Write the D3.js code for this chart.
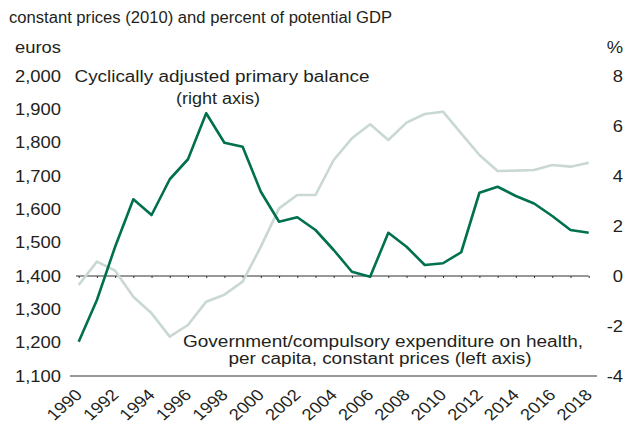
<!DOCTYPE html>
<html>
<head>
<meta charset="utf-8">
<script src="https://cdn.jsdelivr.net/npm/d3@7/dist/d3.min.js"></script>
<style>
  html, body { margin: 0; padding: 0; background: #fff; }
  svg { display: block; font-family: "Liberation Sans", Arial, Helvetica, sans-serif; }
</style>
</head>
<body>
<svg id="chart" width="626" height="425"></svg>
<script>
const years = d3.range(1990, 2019);
const healthEuros = [1373, 1443, 1416, 1338, 1288, 1218, 1253, 1323, 1344, 1383,
  1488, 1603, 1643, 1643, 1748, 1813, 1855, 1808, 1860, 1886,
  1893, 1828, 1763, 1715, 1716, 1718, 1733, 1728, 1740];
const balancePct = [-2.63, -0.96, 1.17, 3.07, 2.44, 3.87, 4.67, 6.51, 5.33, 5.17,
  3.37, 2.17, 2.35, 1.84, 1.04, 0.17, -0.03, 1.73, 1.17, 0.44,
  0.51, 0.95, 3.33, 3.57, 3.2, 2.9, 2.4, 1.84, 1.73];
const leftTicks = [1100, 1200, 1300, 1400, 1500, 1600, 1700, 1800, 1900, 2000];
const rightTicks = [-4, -2, 0, 2, 4, 6, 8];
const yearTicks = d3.range(1990, 2019, 2);

const svg = d3.select("#chart");
const x = d3.scaleLinear().domain([1990, 2018]).range([78.7, 588.7]);
const yL = d3.scaleLinear().domain([1100, 2000]).range([376, 76]);
const yR = d3.scaleLinear().domain([-4, 8]).range([376, 76]);
const txt = "#231f20";
const fs = 16;
const sx = 1.15; // horizontal stretch seen in the reference text

function label(x0, y0, s, anchor, len) {
  const t = svg.append("text").attr("x", x0).attr("y", y0).attr("font-size", fs)
    .attr("fill", txt).attr("text-anchor", anchor || "start").text(s);
  if (len) t.attr("textLength", len).attr("lengthAdjust", "spacingAndGlyphs");
  return t;
}
function stretched(x0, y0, s, anchor) {
  return svg.append("text").attr("transform", `translate(${x0},${y0}) scale(${sx},1)`)
    .attr("font-size", fs).attr("fill", txt).attr("text-anchor", anchor || "start").text(s);
}

// titles
label(9, 23, "constant prices (2010) and percent of potential GDP", "start", 383);
stretched(61, 53, "euros", "end");
stretched(623, 53, "%", "end");

// left axis labels
const leftAxis = d3.axisLeft(yL).tickValues(leftTicks).tickSize(0).tickPadding(0)
  .tickFormat(d3.format(","));
const gL = svg.append("g").attr("transform", "translate(61,0)").call(leftAxis);
gL.select(".domain").remove();
gL.selectAll("text").attr("font-size", fs).attr("fill", txt).attr("font-family", null)
  .attr("transform", `scale(${sx},1)`);

// right axis labels
const rightAxis = d3.axisRight(yR).tickValues(rightTicks).tickSize(0).tickPadding(0)
  .tickFormat(d => String(d).replace("\u2212", "-"));
const gR = svg.append("g").attr("transform", "translate(623,0)").call(rightAxis);
gR.select(".domain").remove();
gR.selectAll("text").attr("font-size", fs).attr("fill", txt).attr("font-family", null)
  .attr("text-anchor", "end").attr("transform", `scale(${sx},1)`);

// bottom line
svg.append("line").attr("x1", 70).attr("x2", 597).attr("y1", yL(1100)).attr("y2", yL(1100))
  .attr("stroke", "#333").attr("stroke-width", 1.2);

// zero line with year ticks
const zeroAxis = d3.axisBottom(x).tickValues(years).tickSize(2).tickFormat("");
const gZ = svg.append("g").attr("transform", `translate(0,${yR(0)})`).call(zeroAxis);
gZ.select(".domain").attr("d", `M76,0H${x(2018)}`).attr("stroke", "#333").attr("stroke-width", 1.2);
gZ.selectAll(".tick line").attr("stroke", "#333");

// year labels
const gX = svg.append("g").attr("transform", `translate(0,${yL(1100)})`)
  .call(d3.axisBottom(x).tickValues(yearTicks).tickSize(0).tickFormat(d3.format("d")));
gX.select(".domain").remove();
gX.selectAll("text").attr("font-size", fs).attr("fill", txt).attr("font-family", null)
  .attr("text-anchor", "end").attr("dy", null).attr("y", 0)
  .attr("transform", `translate(4,20) scale(${sx},1) rotate(-45)`);

// lines
const lineL = d3.line().x((d, i) => x(years[i])).y(d => yL(d));
const lineR = d3.line().x((d, i) => x(years[i])).y(d => yR(d));
svg.append("path").datum(healthEuros).attr("d", lineL).attr("fill", "none")
  .attr("stroke", "#c9d9d1").attr("stroke-width", 2.6).attr("stroke-linejoin", "round");
svg.append("path").datum(balancePct).attr("d", lineR).attr("fill", "none")
  .attr("stroke", "#00704f").attr("stroke-width", 2.6).attr("stroke-linejoin", "round");

// annotations
label(222, 82, "Cyclically adjusted primary balance", "middle", 295);
label(218, 104, "(right axis)", "middle", 84);
label(383, 347, "Government/compulsory expenditure on health,", "middle", 400);
label(380, 364, "per capita, constant prices (left axis)", "middle", 303);
</script>
</body>
</html>
